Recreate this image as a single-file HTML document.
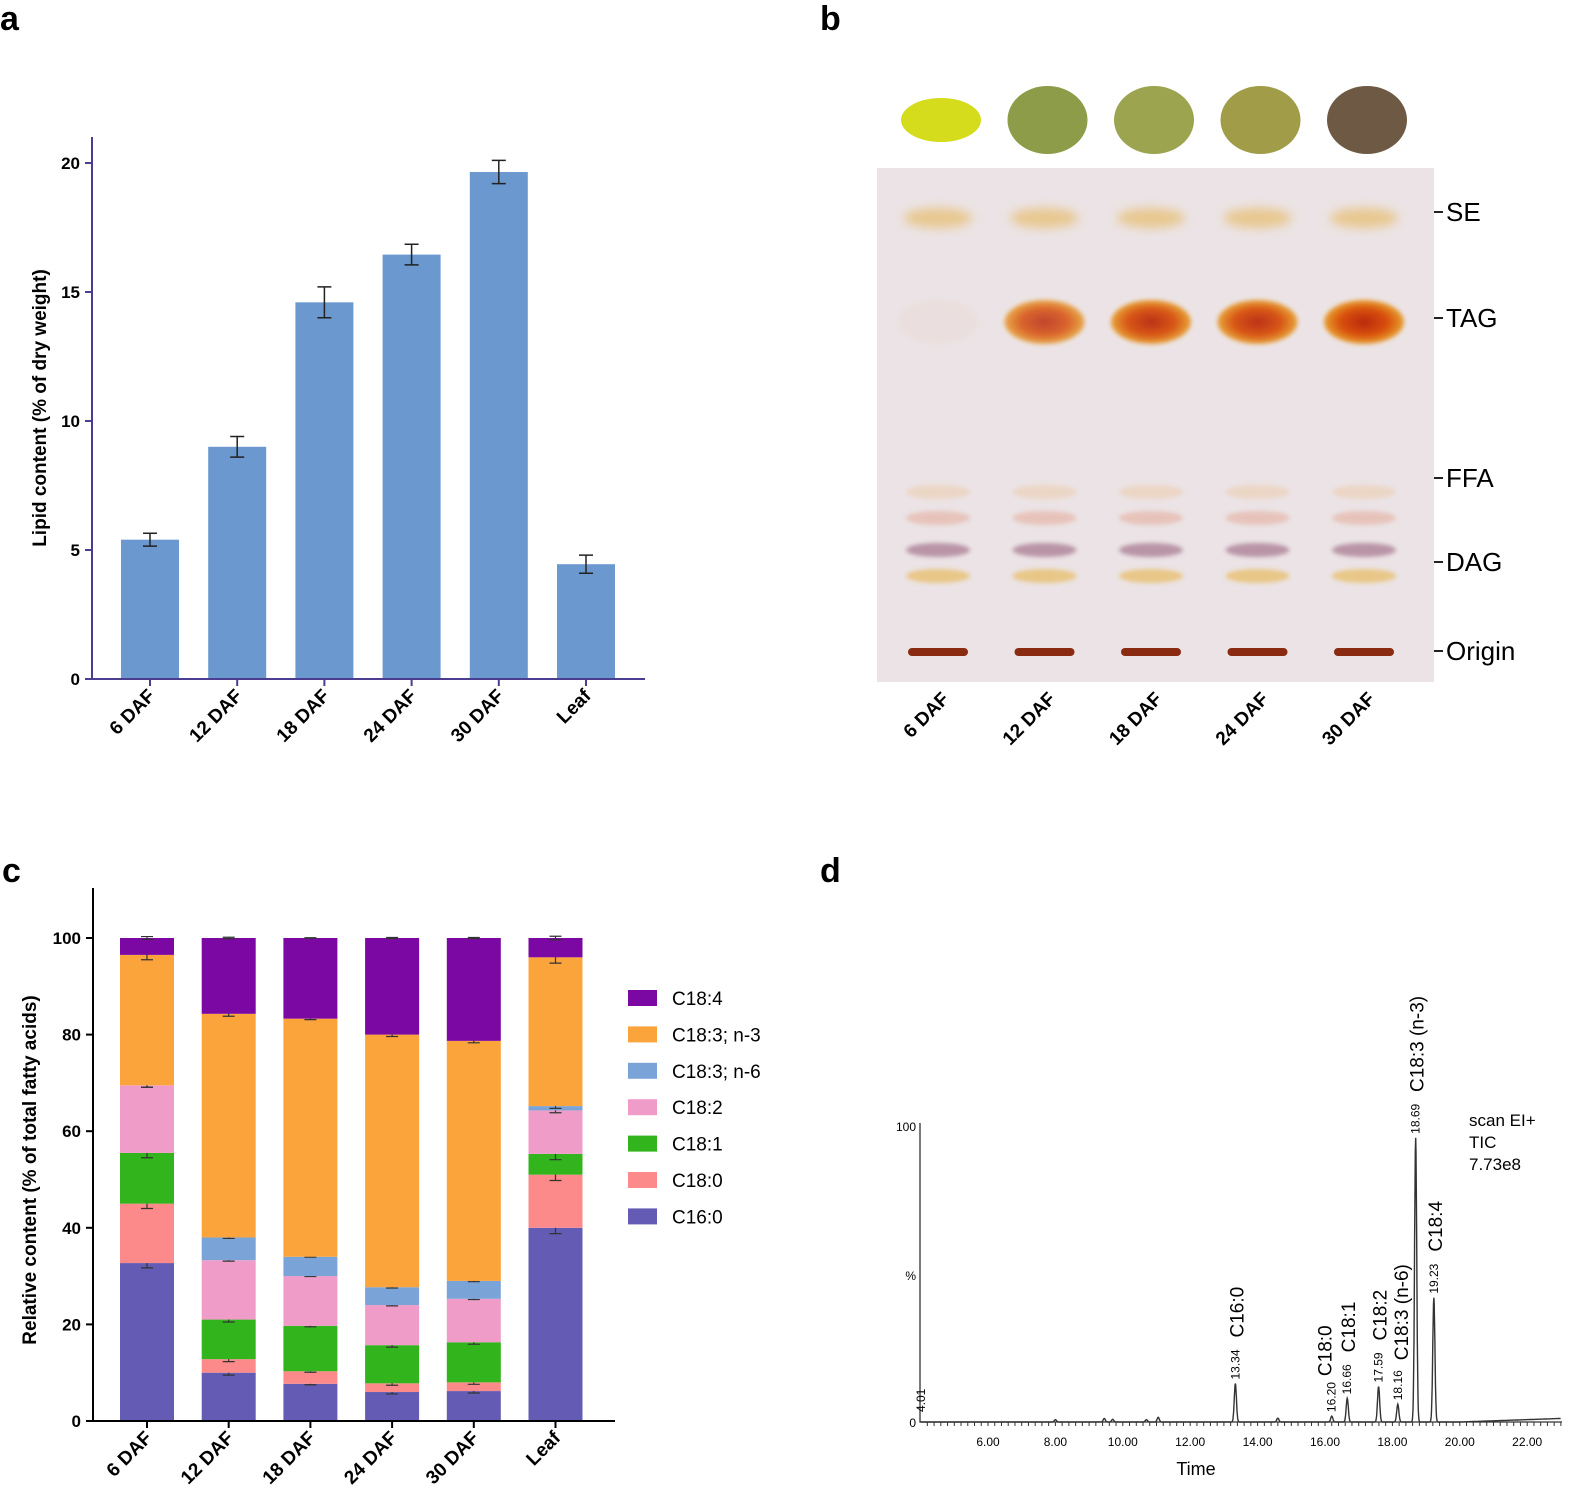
<!DOCTYPE html>
<html><head><meta charset="utf-8"><style>
body{margin:0;background:#fff;}
svg{display:block;font-family:"Liberation Sans",sans-serif;}
.pl{font-size:34px;font-weight:bold;}
.tk{font-size:17px;font-weight:bold;}
.xl{font-size:19px;font-weight:bold;}
</style></head><body>
<svg id="fig" width="1575" height="1507" viewBox="0 0 1575 1507">
<defs>
<filter id="bl" x="-50%" y="-50%" width="200%" height="200%"><feGaussianBlur stdDeviation="5"/></filter>
<filter id="bl2" x="-50%" y="-50%" width="200%" height="200%"><feGaussianBlur stdDeviation="2"/></filter>
<radialGradient id="tag"><stop offset="0" stop-color="#b82810"/><stop offset="0.6" stop-color="#d8500c"/><stop offset="1" stop-color="#e8a030"/></radialGradient>
</defs>
<text class="pl" x="0" y="30">a</text>
<text class="pl" x="820" y="30">b</text>
<text class="pl" x="2" y="882">c</text>
<text class="pl" x="820" y="882">d</text>
<g id="pa"></g>
<g id="pb"></g>
<g id="pc"></g>
<g id="pd"></g>
</svg>
<script>
const NS="http://www.w3.org/2000/svg";
function mk(p,t,a,txt){const e=document.createElementNS(NS,t);for(const k in a)e.setAttribute(k,a[k]);if(txt!==undefined)e.textContent=txt;p.appendChild(e);return e;}

// ---------- Panel a ----------
const aCats=["6 DAF","12 DAF","18 DAF","24 DAF","30 DAF","Leaf"];
const aVals=[5.4,9.0,14.6,16.45,19.65,4.45];
const aErr=[0.25,0.4,0.6,0.4,0.45,0.35];
const aTicks=[0,5,10,15,20];
const pa=document.getElementById('pa');
const aY=v=>679-v*25.8, aX=i=>150+i*87.2;
aCats.forEach((c,i)=>{
  const r=mk(pa,'rect',{x:aX(i)-29,y:aY(aVals[i]),width:58,height:679-aY(aVals[i]),fill:'#6b98cf'});
  
  
  const x=aX(i),t=aY(aVals[i]+aErr[i]),b=aY(aVals[i]-aErr[i]);
  mk(pa,'path',{d:`M${x} ${t}V${b}M${x-7} ${t}H${x+7}M${x-7} ${b}H${x+7}`,stroke:'#222','stroke-width':1.5,fill:'none'});
  const l=mk(pa,'text',{class:'xl','text-anchor':'end',transform:`translate(${x+6},${697}) rotate(-45)`},c);
  
  
});
mk(pa,'path',{d:'M92 137V679H645',stroke:'#4b3d8f','stroke-width':2,fill:'none'});
aTicks.forEach(v=>{mk(pa,'line',{x1:85,x2:92,y1:aY(v),y2:aY(v),stroke:'#4b3d8f','stroke-width':2});
 mk(pa,'text',{class:'tk','text-anchor':'end',x:80,y:aY(v)+6},v);});
aCats.forEach((c,i)=>mk(pa,'line',{x1:aX(i),x2:aX(i),y1:679,y2:686,stroke:'#4b3d8f','stroke-width':2}));
const at=mk(pa,'text',{class:'xl','text-anchor':'middle',transform:'translate(46,408) rotate(-90)'},'Lipid content (% of dry weight)');


// ---------- Panel b (photo approximation) ----------
const pb=document.getElementById('pb');
const bLanes=["6 DAF","12 DAF","18 DAF","24 DAF","30 DAF"];
const seedCol=['#d4dc1c','#8c9c48','#9ca450','#a09c48','#6e5a44'];
const tagOp=[0.15,0.85,0.95,0.95,1];
mk(pb,'rect',{x:877,y:168,width:557,height:514,fill:'#ebe3e5'});
bLanes.forEach((c,i)=>{
  const x=938+i*106.5;
  mk(pb,'ellipse',{cx:x+3,cy:120,rx:40,ry:i==0?22:34,fill:seedCol[i]});
  mk(pb,'ellipse',{cx:x,cy:218,rx:34,ry:10,fill:'#e8c890',filter:'url(#bl)'});
  mk(pb,'ellipse',{cx:x,cy:322,rx:40,ry:22,fill:i==0?'#ecc8b8':'url(#tag)',opacity:tagOp[i],filter:'url(#bl2)'});
  [[492,'#ecd0b8',0.7],[518,'#e6bcb0',0.8],[550,'#b48ca0',0.9],[576,'#e8c070',0.8]].forEach(b=>mk(pb,'ellipse',{cx:x,cy:b[0],rx:32,ry:7,fill:b[1],opacity:b[2],filter:'url(#bl2)'}));
  mk(pb,'rect',{x:x-30,y:648,width:60,height:8,rx:4,fill:'#8a2a10'});
  const l=mk(pb,'text',{class:'xl','text-anchor':'end',transform:`translate(${x+12},${700}) rotate(-45)`},c);
  
  
});
[["SE",212],["TAG",318],["FFA",478],["DAG",562],["Origin",651]].forEach(m=>{
  mk(pb,'line',{x1:1434,x2:1443,y1:m[1],y2:m[1],stroke:'#222','stroke-width':2});
  const t=mk(pb,'text',{x:1446,y:m[1]+9,'font-size':26},m[0]);
  
  
});

// ---------- Panel c ----------
const cCats=["6 DAF","12 DAF","18 DAF","24 DAF","30 DAF","Leaf"];
const cSeries=["C16:0","C18:0","C18:1","C18:2","C18:3; n-6","C18:3; n-3","C18:4"];
const cColors=['#645cb4','#fd8a8a','#32b41c','#f09cc8','#7aa4d8','#fba43c','#7c08a4'];
const c160=[32.7,10,7.7,6,6.2,40];
const c180=[12.3,2.8,2.6,1.8,1.8,11];
const c181=[10.5,8.2,9.4,7.9,8.3,4.3];
const c182=[14,12.3,10.3,8.3,9,9];
const c183n6=[0,4.7,4,3.7,3.7,0.9];
const c183n3=[27,46.3,49.3,52.3,49.7,30.8];
const c184=[3.5,15.7,16.7,20,21.3,4];
const cErr=[1,0.5,0.2,0.4,0.4,1.2];
const cTicks=[0,20,40,60,80,100];
const cData=[c160,c180,c181,c182,c183n6,c183n3,c184];
const pc=document.getElementById('pc');
const cY=v=>1421-v*4.83, cX=i=>147+i*81.7;
cCats.forEach((c,i)=>{
  let cum=0;
  cData.forEach((s,k)=>{
    const v=s[i];
    const r=mk(pc,'rect',{x:cX(i)-27,y:cY(cum+v),width:54,height:v*4.83,fill:cColors[k]});
    
    
    cum+=v;
    const x=cX(i),e=cErr[i]*(k==3||k==4?0.4:(k==6?0.3:1)),t=cY(cum+e),b=cY(cum-e);
    mk(pc,'path',{d:`M${x} ${t}V${b}M${x-6} ${t}H${x+6}M${x-6} ${b}H${x+6}`,stroke:'#333','stroke-width':1.2,fill:'none'});
  });
  const l=mk(pc,'text',{class:'xl','text-anchor':'end',transform:`translate(${cX(i)+6},${1439}) rotate(-45)`},c);
  
  
  mk(pc,'line',{x1:cX(i),x2:cX(i),y1:1421,y2:1428,stroke:'#000','stroke-width':2});
});
mk(pc,'path',{d:'M93 888V1421H615',stroke:'#000','stroke-width':2,fill:'none'});
cTicks.forEach(v=>{mk(pc,'line',{x1:86,x2:93,y1:cY(v),y2:cY(v),stroke:'#000','stroke-width':2});
 mk(pc,'text',{class:'tk','text-anchor':'end',x:81,y:cY(v)+6},v);});
const ct=mk(pc,'text',{class:'xl','text-anchor':'middle',transform:'translate(36,1170) rotate(-90)'},'Relative content (% of total fatty acids)');

cSeries.slice().reverse().forEach((s,j)=>{
  const k=6-j,y=998+j*36.4;
  const g=mk(pc,'g',{});
  
  
  mk(g,'rect',{x:628,y:y-8,width:29,height:16,fill:cColors[k]});
  mk(g,'text',{x:672,y:y+7,'font-size':19},s);
});

// ---------- Panel d ----------
const dTimes=[13.34,16.20,16.66,17.59,18.16,18.69,19.23,8.0,9.45,9.7,11.05,14.6,10.7];
const dHeights=[13,2,8,12,6,96,42,0.8,1.2,0.9,1.6,1.3,0.8];
const dLabels=["13.34","16.20","16.66","17.59","18.16","18.69","19.23"];
const dNames=["C16:0","C18:0","C18:1","C18:2","C18:3 (n-6)","C18:3 (n-3)","C18:4"];
const dXTicks=[6,8,10,12,14,16,18,20,22];
const pd=document.getElementById('pd');
const dX=t=>988+(t-6)*33.7, dY=v=>1422-v*2.96;
let d='';
for(let t=4.0;t<=23.0;t+=0.01){
  let v=0;dTimes.forEach((c,i)=>{v+=dHeights[i]*Math.exp(-Math.pow((t-c)/0.045,2));});
  if(t>20)v+=(t-20)*0.4;
  d+=(d?'L':'M')+dX(t).toFixed(1)+' '+dY(v).toFixed(1);
}
const trace=mk(pd,'path',{d:d,stroke:'#333','stroke-width':1.4,fill:'none'});

mk(pd,'path',{d:'M920 1123V1422H1562',stroke:'#333','stroke-width':1.3,fill:'none'});
for(let t=4.2;t<23;t+=0.2)mk(pd,'line',{x1:dX(t),x2:dX(t),y1:1422,y2:1426,stroke:'#333'});
dXTicks.forEach(t=>mk(pd,'text',{x:dX(t),y:1446,'font-size':12,'text-anchor':'middle'},t.toFixed(2)));
mk(pd,'text',{x:916,y:1131,'font-size':12,'text-anchor':'end'},'100');
mk(pd,'text',{x:916,y:1280,'font-size':12,'text-anchor':'end'},'%');
mk(pd,'text',{x:916,y:1427,'font-size':12,'text-anchor':'end'},'0');
mk(pd,'text',{x:1196,y:1475,'font-size':18,'text-anchor':'middle'},'Time');
mk(pd,'text',{'font-size':12,transform:`translate(${dX(4.01)+4},1412) rotate(-90)`},'4.01');
dLabels.forEach((l,i)=>{
  const x=dX(dTimes[i])+4,y=dY(dHeights[i])-4;
  mk(pd,'text',{'font-size':12,transform:`translate(${x},${y}) rotate(-90)`},l);
});
const nOff=[46,40,46,46,44,0,46];
dNames.forEach((n,i)=>{
  const x=dX(dTimes[i])+8+(i==1?-8:0)+(i==4?2:0),y=dY(dHeights[i])-nOff[i];
  const t=mk(pd,'text',{'font-size':19,transform:`translate(${x},${i==5?1092:y}) rotate(-90)`},n);
  
  
});
['scan EI+','TIC','7.73e8'].forEach((s,i)=>mk(pd,'text',{x:1469,y:1126+i*22,'font-size':17},s));
</script>
</body></html>
